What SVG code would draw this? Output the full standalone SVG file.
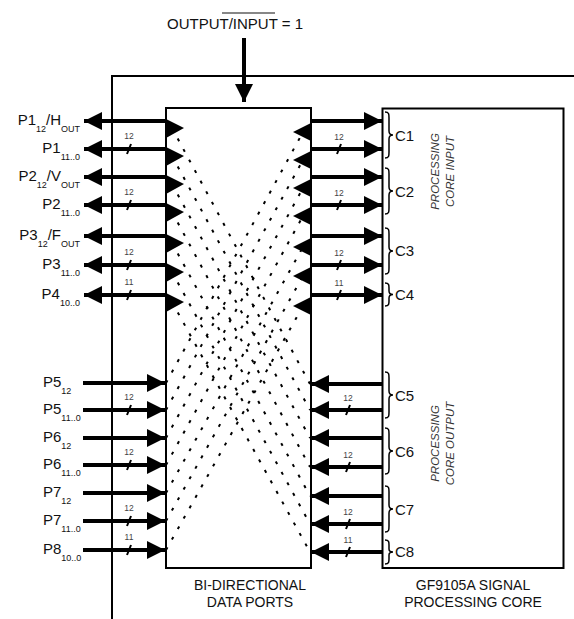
<svg xmlns="http://www.w3.org/2000/svg" width="574" height="619" viewBox="0 0 574 619">
<defs>
<marker id="ah" markerUnits="userSpaceOnUse" markerWidth="19" markerHeight="19" refX="18" refY="9" orient="auto" viewBox="0 0 19 19">
<path d="M0,0 L18,9 L0,18 z" fill="#000"/>
</marker>
<style>
text{font-family:"Liberation Sans",Arial,sans-serif;fill:#111}
.lbl{font-size:15px}
.sub{font-size:9px}
.bus{font-size:8.5px;fill:#444;text-anchor:middle}
.cap{font-size:14px;text-anchor:middle}
.rot{font-size:11.5px;font-style:italic;fill:#333;text-anchor:middle}
.box{fill:#fff;stroke:#000;stroke-width:2}
.frame{fill:none;stroke:#000;stroke-width:2}
.shaft{stroke:#000;stroke-width:4;marker-end:url(#ah)}
.tick{stroke:#000;stroke-width:2}
.dot{stroke:#000;stroke-width:2;stroke-dasharray:3 9;fill:none}
.tri{fill:#000}
.brace{fill:none;stroke:#000;stroke-width:1.5}
</style>
</defs>

<g id="frame">
<path class="frame" d="M112,619 L112,76 L574,76"/>
</g>

<g id="control">
<text x="167" y="29" style="font-size:15px">OUTPUT/INPUT = 1</text>
<line x1="222" y1="13" x2="275" y2="13" stroke="#111" stroke-width="1.2"/>
</g>

<g id="ports">
<rect class="box" x="166" y="108" width="145" height="460"/>
<text class="cap" x="250" y="590">BI-DIRECTIONAL</text>
<text class="cap" x="250" y="607">DATA PORTS</text>
<polygon class="tri" points="166,119 184,128 166,138"/>
<polygon class="tri" points="166,147 184,156 166,166"/>
<polygon class="tri" points="166,175 184,184 166,194"/>
<polygon class="tri" points="166,203 184,212 166,222"/>
<polygon class="tri" points="166,234 184,243 166,253"/>
<polygon class="tri" points="166,263 184,272 166,282"/>
<polygon class="tri" points="166,293 184,302 166,312"/>
<polygon class="tri" points="311,123 293,132 311,141"/>
<polygon class="tri" points="311,151 293,160 311,169"/>
<polygon class="tri" points="311,179 293,188 311,197"/>
<polygon class="tri" points="311,207 293,216 311,225"/>
<polygon class="tri" points="311,238 293,247 311,256"/>
<polygon class="tri" points="311,267 293,276 311,285"/>
<polygon class="tri" points="311,297 293,306 311,315"/>
</g>

<g id="core">
<rect class="box" x="382.5" y="108.5" width="181" height="459.5"/>
<text class="cap" x="473" y="590">GF9105A SIGNAL</text>
<text class="cap" x="473" y="607">PROCESSING CORE</text>
<text class="rot" transform="translate(438.5,171.5) rotate(-90)">PROCESSING</text>
<text class="rot" transform="translate(453.5,171.5) rotate(-90)">CORE INPUT</text>
<text class="rot" transform="translate(438.5,443.5) rotate(-90)">PROCESSING</text>
<text class="rot" transform="translate(453.5,443.5) rotate(-90)">CORE OUTPUT</text>
<path class="brace" d="M385,112 C389,112 389,114 389,118 L389,131 C389,134 390,135 393,135 C390,135 389,136 389,139 L389,152 C389,156 389,158 385,158"/>
<path class="brace" d="M385,168 C389,168 389,170 389,174 L389,187 C389,190 390,191 393,191 C390,191 389,192 389,195 L389,208 C389,212 389,214 385,214"/>
<path class="brace" d="M385,228 C389,228 389,230 389,234 L389,247 C389,250 390,251 393,251 C390,251 389,252 389,255 L389,268 C389,272 389,274 385,274"/>
<path class="brace" d="M385,283 C389,283 389,285 389,288 L389,291 C389,293 390,294.5 393,294.5 C390,294.5 389,296 389,298 L389,301 C389,304 389,306 385,306"/>
<path class="brace" d="M385,372 C389,372 389,374 389,378 L389,391 C389,394 390,395 393,395 C390,395 389,396 389,399 L389,412 C389,416 389,418 385,418"/>
<path class="brace" d="M385,428 C389,428 389,430 389,434 L389,447 C389,450 390,451 393,451 C390,451 389,452 389,455 L389,468 C389,472 389,474 385,474"/>
<path class="brace" d="M385,486 C389,486 389,488 389,492 L389,505 C389,508 390,509 393,509 C390,509 389,510 389,513 L389,526 C389,530 389,532 385,532"/>
<path class="brace" d="M385,540 C389,540 389,542 389,545 L389,549 C389,551 390,552 393,552 C390,552 389,553 389,555 L389,559 C389,562 389,564 385,564"/>
<text class="lbl" x="395" y="141">C1</text>
<text class="lbl" x="395" y="197">C2</text>
<text class="lbl" x="395" y="256">C3</text>
<text class="lbl" x="395" y="300">C4</text>
<text class="lbl" x="395" y="401">C5</text>
<text class="lbl" x="395" y="457">C6</text>
<text class="lbl" x="395" y="515">C7</text>
<text class="lbl" x="395" y="557">C8</text>
</g>

<g id="port-labels">
<text class="lbl" x="80" y="125" text-anchor="end">P1<tspan class="sub" dy="7">12</tspan><tspan dy="-7">/H</tspan><tspan class="sub" dy="7">OUT</tspan></text>
<text class="lbl" x="80" y="153" text-anchor="end">P1<tspan class="sub" dy="7">11..0</tspan></text>
<text class="lbl" x="80" y="181" text-anchor="end">P2<tspan class="sub" dy="7">12</tspan><tspan dy="-7">/V</tspan><tspan class="sub" dy="7">OUT</tspan></text>
<text class="lbl" x="80" y="209" text-anchor="end">P2<tspan class="sub" dy="7">11..0</tspan></text>
<text class="lbl" x="80" y="240" text-anchor="end">P3<tspan class="sub" dy="7">12</tspan><tspan dy="-7">/F</tspan><tspan class="sub" dy="7">OUT</tspan></text>
<text class="lbl" x="80" y="269" text-anchor="end">P3<tspan class="sub" dy="7">11..0</tspan></text>
<text class="lbl" x="80" y="299" text-anchor="end">P4<tspan class="sub" dy="7">10..0</tspan></text>
<text class="lbl" x="43" y="387">P5<tspan class="sub" dy="7">12</tspan></text>
<text class="lbl" x="43" y="414">P5<tspan class="sub" dy="7">11..0</tspan></text>
<text class="lbl" x="43" y="442">P6<tspan class="sub" dy="7">12</tspan></text>
<text class="lbl" x="43" y="469">P6<tspan class="sub" dy="7">11..0</tspan></text>
<text class="lbl" x="43" y="497">P7<tspan class="sub" dy="7">12</tspan></text>
<text class="lbl" x="43" y="525">P7<tspan class="sub" dy="7">11..0</tspan></text>
<text class="lbl" x="43" y="554">P8<tspan class="sub" dy="7">10..0</tspan></text>
</g>

<g id="connectors">
<line class="shaft" x1="244" y1="38" x2="244" y2="102"/>
<!-- top-left outputs -->
<line class="shaft" x1="166" y1="121" x2="84" y2="121"/>
<line class="shaft" x1="166" y1="149" x2="84" y2="149"/>
<line class="shaft" x1="166" y1="177" x2="84" y2="177"/>
<line class="shaft" x1="166" y1="205" x2="84" y2="205"/>
<line class="shaft" x1="166" y1="236" x2="84" y2="236"/>
<line class="shaft" x1="166" y1="265" x2="84" y2="265"/>
<line class="shaft" x1="166" y1="295" x2="84" y2="295"/>
<!-- top-right to core -->
<line class="shaft" x1="311" y1="121" x2="382" y2="121"/>
<line class="shaft" x1="311" y1="149" x2="382" y2="149"/>
<line class="shaft" x1="311" y1="177" x2="382" y2="177"/>
<line class="shaft" x1="311" y1="205" x2="382" y2="205"/>
<line class="shaft" x1="311" y1="236" x2="382" y2="236"/>
<line class="shaft" x1="311" y1="265" x2="382" y2="265"/>
<line class="shaft" x1="311" y1="295" x2="382" y2="295"/>
<!-- bottom-left inputs -->
<line class="shaft" x1="83" y1="383" x2="165" y2="383"/>
<line class="shaft" x1="83" y1="410" x2="165" y2="410"/>
<line class="shaft" x1="83" y1="438" x2="165" y2="438"/>
<line class="shaft" x1="83" y1="465" x2="165" y2="465"/>
<line class="shaft" x1="83" y1="493" x2="165" y2="493"/>
<line class="shaft" x1="83" y1="521" x2="165" y2="521"/>
<line class="shaft" x1="83" y1="550" x2="165" y2="550"/>
<!-- bottom-right from core -->
<line class="shaft" x1="382" y1="384" x2="311" y2="384"/>
<line class="shaft" x1="382" y1="410" x2="311" y2="410"/>
<line class="shaft" x1="382" y1="438" x2="311" y2="438"/>
<line class="shaft" x1="382" y1="467" x2="311" y2="467"/>
<line class="shaft" x1="382" y1="496" x2="311" y2="496"/>
<line class="shaft" x1="382" y1="524" x2="311" y2="524"/>
<line class="shaft" x1="382" y1="552" x2="311" y2="552"/>
<!-- bus ticks -->
<line class="tick" x1="127" y1="154" x2="131" y2="144"/>
<line class="tick" x1="127" y1="210" x2="131" y2="200"/>
<line class="tick" x1="127" y1="270" x2="131" y2="260"/>
<line class="tick" x1="127" y1="300" x2="131" y2="290"/>
<line class="tick" x1="337" y1="154" x2="341" y2="144"/>
<line class="tick" x1="337" y1="210" x2="341" y2="200"/>
<line class="tick" x1="337" y1="270" x2="341" y2="260"/>
<line class="tick" x1="337" y1="300" x2="341" y2="290"/>
<line class="tick" x1="127" y1="415" x2="131" y2="405"/>
<line class="tick" x1="127" y1="470" x2="131" y2="460"/>
<line class="tick" x1="127" y1="526" x2="131" y2="516"/>
<line class="tick" x1="127" y1="555" x2="131" y2="545"/>
<line class="tick" x1="346" y1="415" x2="350" y2="405"/>
<line class="tick" x1="346" y1="472" x2="350" y2="462"/>
<line class="tick" x1="346" y1="529" x2="350" y2="519"/>
<line class="tick" x1="346" y1="557" x2="350" y2="547"/>
<text class="bus" x="129" y="139">12</text>
<text class="bus" x="129" y="195">12</text>
<text class="bus" x="129" y="255">12</text>
<text class="bus" x="129" y="285">11</text>
<text class="bus" x="339" y="140">12</text>
<text class="bus" x="339" y="196">12</text>
<text class="bus" x="339" y="256">12</text>
<text class="bus" x="339" y="286">11</text>
<text class="bus" x="129" y="400">12</text>
<text class="bus" x="129" y="455">12</text>
<text class="bus" x="129" y="511">12</text>
<text class="bus" x="129" y="540">11</text>
<text class="bus" x="348" y="401">12</text>
<text class="bus" x="348" y="458">12</text>
<text class="bus" x="348" y="515">12</text>
<text class="bus" x="348" y="543">11</text>
<!-- crossbar dotted routes -->
<line class="dot" x1="172" y1="128" x2="310" y2="384"/>
<line class="dot" x1="172" y1="156" x2="310" y2="410"/>
<line class="dot" x1="172" y1="184" x2="310" y2="438"/>
<line class="dot" x1="172" y1="212" x2="310" y2="467"/>
<line class="dot" x1="172" y1="243" x2="310" y2="496"/>
<line class="dot" x1="172" y1="272" x2="310" y2="524"/>
<line class="dot" x1="172" y1="302" x2="310" y2="552"/>
<line class="dot" x1="166" y1="383" x2="303" y2="132"/>
<line class="dot" x1="166" y1="410" x2="303" y2="160"/>
<line class="dot" x1="166" y1="438" x2="303" y2="188"/>
<line class="dot" x1="166" y1="465" x2="303" y2="216"/>
<line class="dot" x1="166" y1="493" x2="303" y2="247"/>
<line class="dot" x1="166" y1="521" x2="303" y2="276"/>
<line class="dot" x1="166" y1="550" x2="303" y2="306"/>
</g>
</svg>
